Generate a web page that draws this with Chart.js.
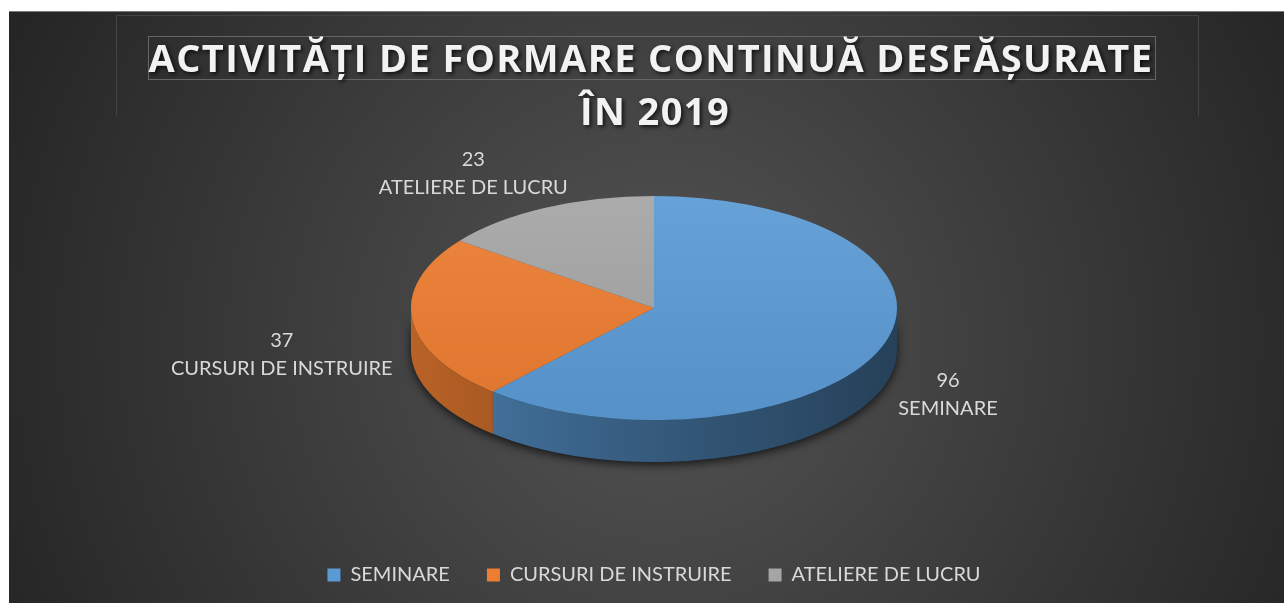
<!DOCTYPE html>
<html lang="ro">
<head>
<meta charset="utf-8">
<title>Activități de formare continuă 2019</title>
<script src="https://cdn.jsdelivr.net/npm/chart.js@4"></script>
<style>
    html, body { margin: 0; padding: 0; background: #fff; }
    #cadru { position: absolute; left: 9px; top: 11px; width: 1275px; height: 592px; }
</style>
</head>
<body>
<div id="cadru"><canvas id="activitatiChart"></canvas></div>
<script>
const categorii = ['SEMINARE', 'CURSURI DE INSTRUIRE', 'ATELIERE DE LUCRU']
const valori = [96, 37, 23]
const culori = ['#5b9bd5', '#ed7d31', '#a5a5a5']
const titlu = ['ACTIVITĂȚI DE FORMARE CONTINUĂ DESFĂȘURATE', 'ÎN 2019']

const turtire = 0.461   // raport ry / rx al elipsei
const adancime = 42     // grosimea "feliei" 3D
const culoareText = '#d9d9d9'

function intuneca(hex, f) {
    const n = parseInt(hex.slice(1), 16)
    const r = Math.round(((n >> 16) & 255) * f)
    const g = Math.round(((n >> 8) & 255) * f)
    const b = Math.round((n & 255) * f)
    return `rgb(${r},${g},${b})`
}

// fundal, chenare si titlu
const fundal = {
    id: 'fundal',
    beforeDraw(chart) {
        const { ctx, width, height } = chart
        ctx.save()
        const grad = ctx.createRadialGradient(650, 330, 0, 650, 330, 720)
        grad.addColorStop(0, '#545454')
        grad.addColorStop(1, '#252525')
        ctx.fillStyle = grad
        ctx.fillRect(0, 0, width, height)

        ctx.strokeStyle = '#7a7a7a'
        ctx.lineWidth = 1
        ctx.beginPath()
        ctx.moveTo(0, 0.5)
        ctx.lineTo(width, 0.5)
        ctx.stroke()

        ctx.strokeStyle = '#444'
        ctx.beginPath()
        ctx.moveTo(107.5, 105)
        ctx.lineTo(107.5, 4.5)
        ctx.lineTo(1189.5, 4.5)
        ctx.lineTo(1189.5, 105)
        ctx.stroke()

        ctx.strokeStyle = '#666'
        ctx.strokeRect(139.5, 25.5, 1007, 43)

        ctx.font = 'bold 38px "Open Sans"'
        ctx.letterSpacing = '1.4px'
        ctx.textAlign = 'center'
        ctx.textBaseline = 'alphabetic'
        ctx.fillStyle = '#f2f2f2'
        ctx.shadowColor = 'rgba(0,0,0,0.75)'
        ctx.shadowBlur = 4
        ctx.shadowOffsetX = 2
        ctx.shadowOffsetY = 2
        ctx.fillText(titlu[0], 642, 61)
        ctx.fillText(titlu[1], 646, 114)
        ctx.restore()
    }
}

// pie 3D: laturi + turtirea fetei de sus + etichete
const pie3d = {
    id: 'pie3d',
    beforeDatasetsDraw(chart) {
        const ctx = chart.ctx
        const arce = chart.getDatasetMeta(0).data
        const { x, y, outerRadius } = arce[0].getProps(['x', 'y', 'outerRadius'])
        const ry = outerRadius * turtire

        ctx.save()
        // umbra sub pie
        ctx.shadowColor = 'rgba(0,0,0,0.7)'
        ctx.shadowBlur = 10
        ctx.shadowOffsetY = 3
        ctx.fillStyle = '#1a2a3a'
        ctx.beginPath()
        ctx.ellipse(x, y, outerRadius, ry, 0, 0, Math.PI)
        ctx.ellipse(x, y + adancime, outerRadius, ry, 0, Math.PI, 0, true)
        ctx.closePath()
        ctx.fill()
        ctx.restore()

        arce.forEach((arc, i) => {
            const p = arc.getProps(['startAngle', 'endAngle'])
            for (let k = -1; k <= 1; k++) {
                const lo = Math.max(p.startAngle, k * 2 * Math.PI)
                const hi = Math.min(p.endAngle, k * 2 * Math.PI + Math.PI)
                if (hi <= lo) continue
                const grad = ctx.createLinearGradient(x - outerRadius, 0, x + outerRadius, 0)
                grad.addColorStop(0, intuneca(culori[i], 0.78))
                grad.addColorStop(0.5, intuneca(culori[i], 0.58))
                grad.addColorStop(1, intuneca(culori[i], 0.42))
                ctx.fillStyle = grad
                ctx.beginPath()
                ctx.ellipse(x, y, outerRadius, ry, 0, lo, hi)
                ctx.ellipse(x, y + adancime, outerRadius, ry, 0, hi, lo, true)
                ctx.closePath()
                ctx.fill()
            }
        })

        ctx.save()
        ctx.translate(x, y)
        ctx.scale(1, turtire)
        ctx.translate(-x, -y)
    },
    afterDatasetsDraw(chart) {
        const ctx = chart.ctx
        const arce = chart.getDatasetMeta(0).data
        const { x, y, outerRadius } = arce[0].getProps(['x', 'y', 'outerRadius'])

        // lumina usoara pe fata de sus
        const lum = ctx.createLinearGradient(0, y - outerRadius, 0, y + outerRadius)
        lum.addColorStop(0, 'rgba(255,255,255,0.07)')
        lum.addColorStop(1, 'rgba(0,0,0,0.06)')
        ctx.fillStyle = lum
        ctx.beginPath()
        ctx.arc(x, y, outerRadius, 0, Math.PI * 2)
        ctx.fill()
        ctx.restore()

        // etichete in afara feliilor
        const ry = outerRadius * turtire
        const pad = 20
        ctx.save()
        ctx.font = '20px Lato'
        ctx.fillStyle = culoareText
        ctx.textAlign = 'center'
        ctx.textBaseline = 'middle'
        arce.forEach((arc, i) => {
            const p = arc.getProps(['startAngle', 'endAngle'])
            const m = (p.startAngle + p.endAngle) / 2
            const c = Math.cos(m), s = Math.sin(m)
            const w = ctx.measureText(categorii[i]).width
            const h = 56
            const cx = x + (outerRadius + pad) * c + Math.sign(c) * Math.sqrt(Math.abs(c)) * w / 2
            let cy = y + (ry + pad) * s
            if (s > 0) cy += s * h / 2 + 30
            else cy += s * h * 0.33
            ctx.fillText(String(valori[i]), cx, cy - 14)
            ctx.fillText(categorii[i], cx, cy + 14)
        })
        ctx.restore()
    }
}

let activitatiChart

function grafic() {
    const ctx = document.getElementById('activitatiChart').getContext('2d')
    activitatiChart = new Chart(ctx, {
        type: 'pie',
        data: {
            labels: categorii,
            datasets: [{
                data: valori,
                backgroundColor: culori,
                borderWidth: 0,
                radius: 243
            }]
        },
        options: {
            responsive: true,
            maintainAspectRatio: false,
            animation: false,
            layout: {
                padding: { left: 15, top: 77, right: 0, bottom: 8 }
            },
            plugins: {
                legend: {
                    position: 'bottom',
                    labels: {
                        color: culoareText,
                        font: { family: 'Lato', size: 20 },
                        boxWidth: 13,
                        boxHeight: 13,
                        padding: 37
                    }
                },
                title: { display: false },
                tooltip: { enabled: false }
            }
        },
        plugins: [fundal, pie3d]
    })
}

grafic()
</script>
</body>
</html>
